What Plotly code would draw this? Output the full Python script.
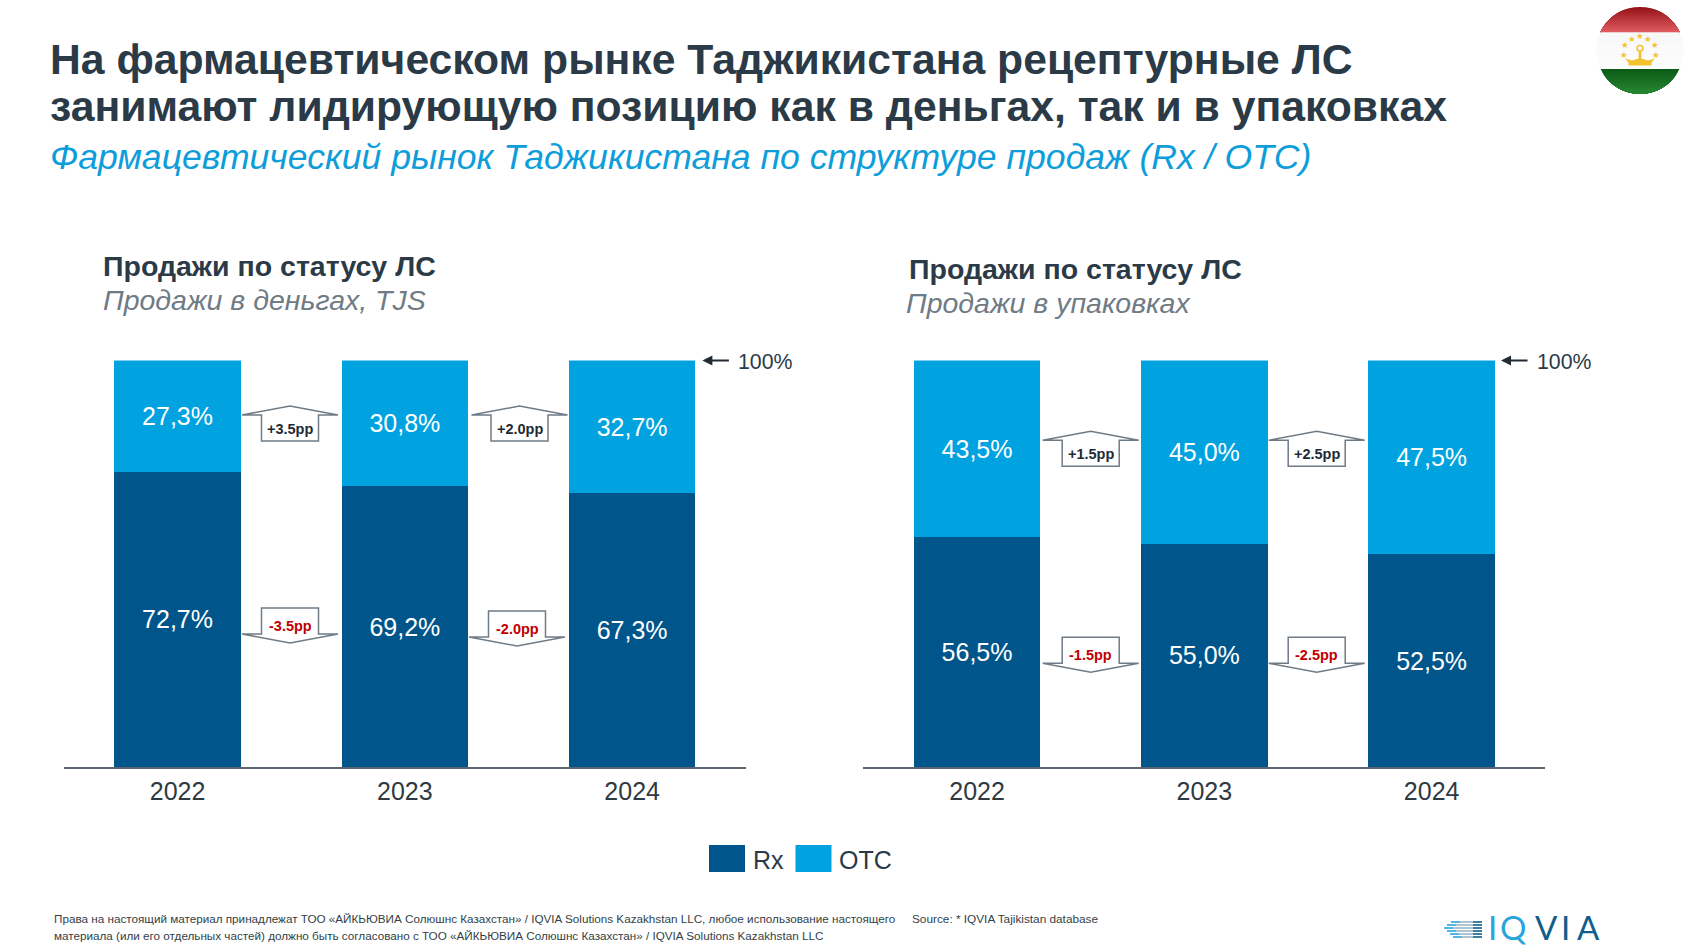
import numpy as np
import plotly.graph_objects as go

W, H = 1693, 952

years = ["2022", "2023", "2024"]
rx_money = [72.7, 69.2, 67.3]
otc_money = [27.3, 30.8, 32.7]
rx_packs = [56.5, 55.0, 52.5]
otc_packs = [43.5, 45.0, 47.5]

delta_money_up = ["+3.5pp", "+2.0pp"]
delta_money_down = ["-3.5pp", "-2.0pp"]
delta_packs_up = ["+1.5pp", "+2.5pp"]
delta_packs_down = ["-1.5pp", "-2.5pp"]

FOOT_1 = ("Права на настоящий материал принадлежат ТОО «АЙКЬЮВИА Солюшнс Казахстан» / IQVIA Solutions "
          "Kazakhstan LLC, любое использование настоящего")
FOOT_2 = ("материала (или его отдельных частей) должно быть согласовано с ТОО «АЙКЬЮВИА Солюшнс Казахстан» / "
          "IQVIA Solutions Kazakhstan LLC")

RX = "#00568A"
OTC = "#00A3E0"
DARK = "#2B3A47"
GRAY = "#6F7B85"
FONT = "Liberation Sans"


def fx(x):
    return x / W


def fy(y):
    return 1 - y / H


def to_path(points, close=True):
    return "M" + "L".join(f"{fx(x):.5f},{fy(y):.5f}" for x, y in points) + ("Z" if close else "")


def label(v):
    return f"{v:.1f}%".replace(".", ",")


fig = go.Figure()
shapes = []
notes = []


def text(x, y, s, size, color=DARK, bold=False, italic=False, anchor="left", font=FONT):
    if bold:
        s = f"<b>{s}</b>"
    if italic:
        s = f"<i>{s}</i>"
    # annotations carry a small inner pad, pull left-anchored ones back
    if anchor == "left":
        x -= 2.5
    notes.append(dict(x=fx(x), y=fy(y), xref="paper", yref="paper", text=s, showarrow=False,
                      xanchor=anchor, yanchor="middle", font=dict(family=font, size=size, color=color)))


def add_bars(rx, otc, xa, ya):
    for vals, color, name in ((rx, RX, "Rx"), (otc, OTC, "OTC")):
        fig.add_trace(go.Bar(x=years, y=vals, name=name, marker=dict(color=color, line_width=0),
                             text=[label(v) for v in vals], textposition="inside", insidetextanchor="middle",
                             textangle=0, textfont=dict(family=FONT, size=25, color="white"),
                             xaxis=xa, yaxis=ya, width=0.556, showlegend=False))


add_bars(rx_money, otc_money, "x", "y")
add_bars(rx_packs, otc_packs, "x2", "y2")


def pp_arrow(cx, wing_y, s, up=True):
    d = -1 if up else 1
    pts = [(cx - 48, wing_y), (cx, wing_y + d * 9), (cx + 48, wing_y), (cx + 28.5, wing_y),
           (cx + 28.5, wing_y - d * 26), (cx - 28.5, wing_y - d * 26), (cx - 28.5, wing_y)]
    shapes.append(dict(type="path", path=to_path(pts), xref="paper", yref="paper",
                       line=dict(color=GRAY, width=1.5), fillcolor="white"))
    text(cx, wing_y + (14 if up else -8.5), s, 14.5, color="#222B35" if up else "#C00000", bold=True, anchor="center")


for cx, s in zip((290, 519.5), delta_money_up):
    pp_arrow(cx, 415, s)
for cx, wy, s in zip((290, 517), (634, 637), delta_money_down):
    pp_arrow(cx, wy, s, up=False)
for cx, s in zip((1090.7, 1316.7), delta_packs_up):
    pp_arrow(cx, 440.3, s)
for cx, s in zip((1090.7, 1316.7), delta_packs_down):
    pp_arrow(cx, 663.3, s, up=False)

# 100% markers
for x0 in (702.4, 1501):
    notes.append(dict(x=fx(x0), y=fy(360.4), xref="paper", yref="paper", text="", showarrow=True,
                      ax=28, ay=0, arrowhead=2, arrowsize=1, arrowwidth=2, arrowcolor="#222B35"))
    text(x0 + 36.5, 361.5, "100%", 21.3)

# headings
text(50.7, 59.3, "На фармацевтическом рынке Таджикистана рецептурные ЛС", 42.7, bold=True)
text(50.7, 105.7, "занимают лидирующую позицию как в деньгах, так и в упаковках", 42.7, bold=True)
text(50.7, 157.5, "Фармацевтический рынок Таджикистана по структуре продаж (Rx / OTC)", 35.6, color="#0E9DDB", italic=True)
text(103.6, 266, "Продажи по статусу ЛС", 28.5, bold=True)
text(103.6, 300, "Продажи в деньгах, TJS", 28.5, color=GRAY, italic=True)
text(909.6, 269, "Продажи по статусу ЛС", 28.5, bold=True)
text(906.4, 303.2, "Продажи в упаковках", 28.5, color=GRAY, italic=True)

# legend
for x0, c, s in ((709, RX, "Rx"), (795.5, OTC, "OTC")):
    shapes.append(dict(type="rect", xref="paper", yref="paper", x0=fx(x0), x1=fx(x0 + 36),
                       y0=fy(845), y1=fy(872), fillcolor=c, line_width=0))
    text(x0 + 44, 860, s, 25)

# footer
text(54, 918.5, FOOT_1, 11.7, color="#333F48")
text(54, 935, FOOT_2, 11.7, color="#333F48")
text(912, 918.5, "Source: * IQVIA Tajikistan database", 11.8, color="#333F48")

# logo
for x0, c, s in ((1492.5, "#27A5DC", "I"), (1513, "#27A5DC", "Q"), (1546.5, "#0F5E8C", "V"),
                 (1565, "#0F5E8C", "I"), (1588.5, "#0F5E8C", "A")):
    text(x0, 927, s, 33, color=c, anchor="center", font="Lato")
for y0, x0 in zip((922, 925, 928, 931, 934, 937), (1451, 1447, 1444, 1447, 1450, 1453)):
    for a, b, c in ((x0, x0 + 9, "#27A5DC"), (x0 + 9, 1473, "#9DB4C4"), (1473, 1482, "#0F5E8C")):
        shapes.append(dict(type="line", xref="paper", yref="paper", x0=fx(a), x1=fx(b), y0=fy(y0), y1=fy(y0),
                           line=dict(color=c, width=1.6)))

# flag badge
FCX, FCY, FR = 1640, 50.4, 43.5


def band(y0, y1, color):
    t0, t1 = np.arcsin(np.clip((y0 - FCY) / FR, -1, 1)), np.arcsin(np.clip((y1 - FCY) / FR, -1, 1))
    tt = np.linspace(t0, t1, 10)
    right = [(FCX + FR * np.cos(t), FCY + FR * np.sin(t)) for t in tt]
    left = [(FCX - FR * np.cos(t), FCY + FR * np.sin(t)) for t in tt[::-1]]
    shapes.append(dict(type="path", path=to_path(right + left), xref="paper", yref="paper",
                       fillcolor=color, line_width=0))


def lerp(c0, c1, t):
    return "rgb(" + ",".join(str(int(a + (b - a) * t)) for a, b in zip(c0, c1)) + ")"


def gradient(y0, y1, c0, c1, n=14):
    # each step runs to the band's end and the next paints over it, so no seams show
    ys = np.linspace(y0, y1, n + 1)
    for i in range(n):
        band(ys[i], y1, lerp(c0, c1, i / (n - 1)))


gradient(FCY - FR, FCY - 18.2, (150, 20, 25), (222, 90, 95))
gradient(FCY - 18.2, FCY + 18.6, (248, 248, 248), (252, 252, 252), n=3)
gradient(FCY + 18.6, FCY + FR, (12, 92, 22), (40, 135, 50))

GOLD = "#F2C230"
for ang in (-90, -60, -28, 8, 172, 208, 240):
    a = np.radians(ang)
    text(FCX + 16.5 * np.cos(a), FCY + 2.5 + 16.5 * np.sin(a), "★", 8.5, color=GOLD, anchor="center", font="DejaVu Sans")
crown = [(FCX - 11.5, FCY + 15), (FCX + 11.5, FCY + 15), (FCX + 11.5, FCY + 12), (FCX + 15, FCY + 8), (FCX + 8, FCY + 10),
         (FCX + 1.3, FCY + 8), (FCX + 1.3, FCY - 1), (FCX - 1.3, FCY - 1), (FCX - 1.3, FCY + 8), (FCX - 8, FCY + 10),
         (FCX - 15, FCY + 8), (FCX - 11.5, FCY + 12)]
shapes.append(dict(type="path", path=to_path(crown), xref="paper", yref="paper", fillcolor=GOLD, line_width=0))
shapes.append(dict(type="circle", xref="paper", yref="paper", x0=fx(FCX - 3), x1=fx(FCX + 3),
                   y0=fy(FCY - 5), y1=fy(FCY + 0.5), line=dict(color=GOLD, width=1.5), fillcolor="white"))

axis_x = dict(type="category", range=[-0.5, 2.5], showgrid=False, zeroline=False, showline=True,
              linecolor="#5B6670", linewidth=1.5, ticks="outside", ticklen=1, tickcolor="rgba(0,0,0,0)",
              tickfont=dict(family=FONT, size=25, color="#2F3942"), fixedrange=True)
axis_y = dict(range=[0, 100], visible=False, domain=[fy(767.4), fy(360.4)], fixedrange=True)

fig.update_layout(
    width=W, height=H, margin=dict(l=0, r=0, t=0, b=0),
    barmode="stack", plot_bgcolor="white", paper_bgcolor="white",
    xaxis=dict(axis_x, domain=[fx(63.9), fx(745.8)], anchor="y"),
    yaxis=dict(axis_y, anchor="x"),
    xaxis2=dict(axis_x, domain=[fx(863.4), fx(1545.3)], anchor="y2"),
    yaxis2=dict(axis_y, anchor="x2"),
    shapes=shapes, annotations=notes,
)

fig.write_html("out.html", config={"displayModeBar": False}, post_script="document.body.style.margin='0';")
